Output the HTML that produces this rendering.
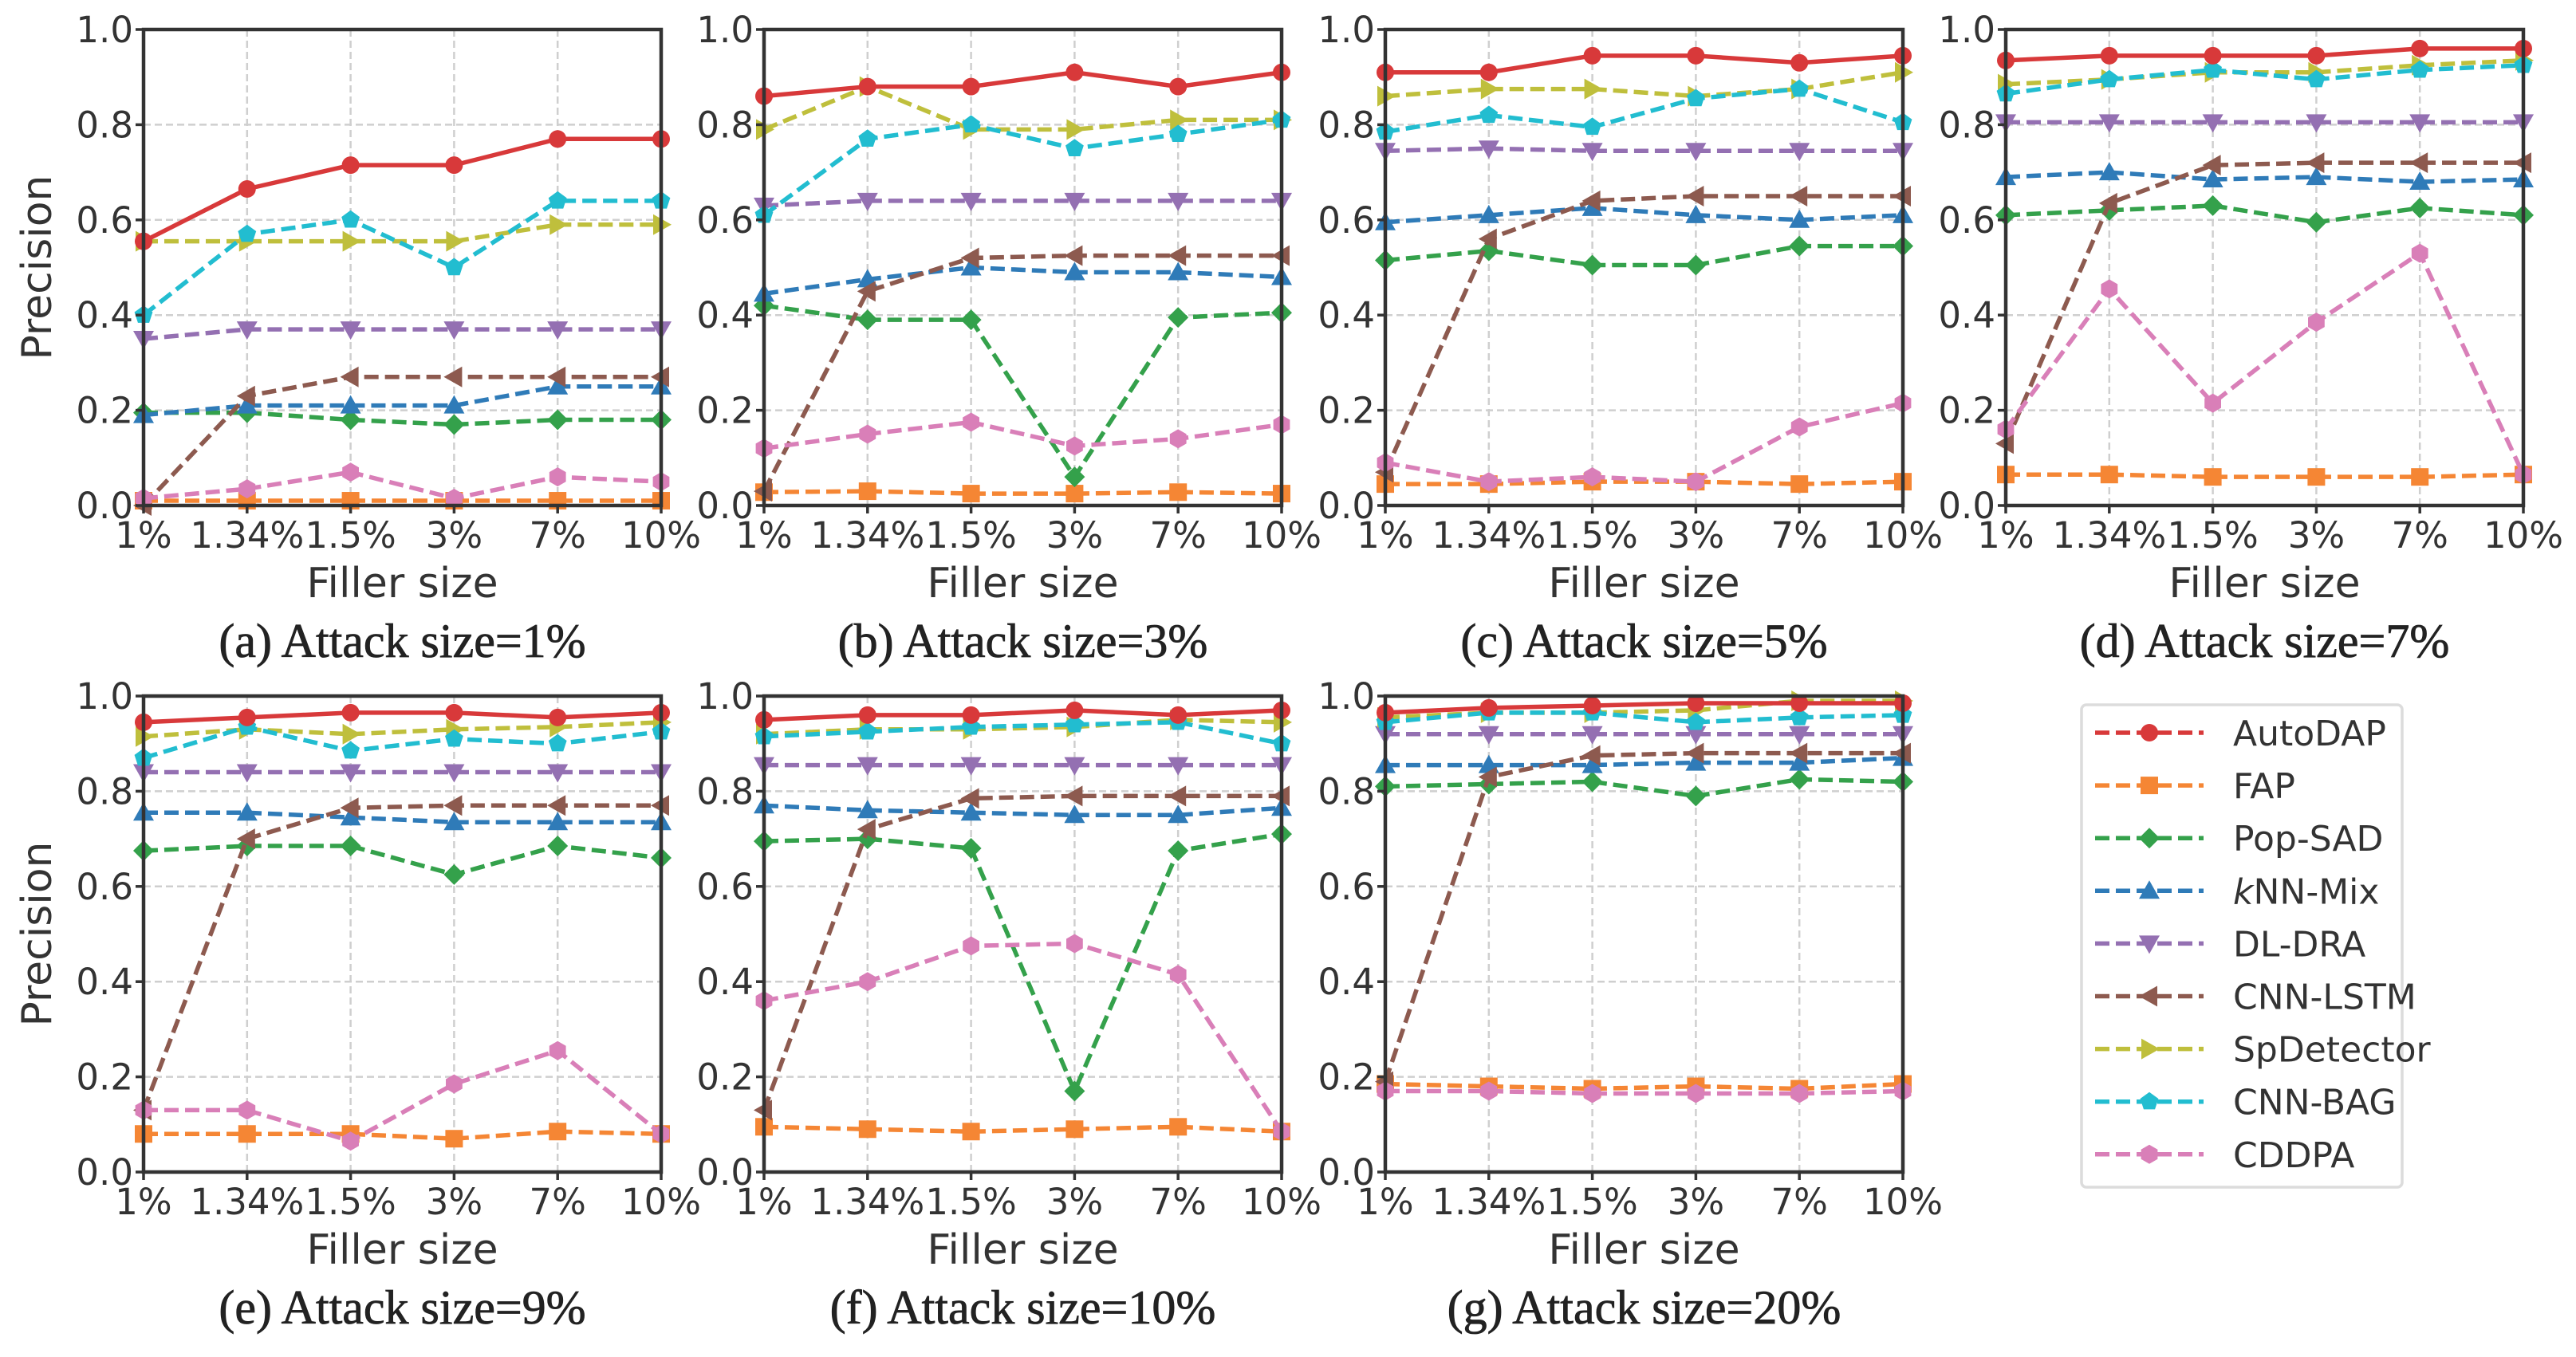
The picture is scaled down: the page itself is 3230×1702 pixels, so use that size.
<!DOCTYPE html>
<html><head><meta charset="utf-8"><style>
html,body{margin:0;padding:0;background:#fff;}
svg{display:block;}
</style></head><body>
<svg id="chart" width="3230" height="1702" viewBox="0 0 3230 1702" xmlns="http://www.w3.org/2000/svg"></svg>
<script>
const categories = ["1%","1.34%","1.5%","3%","7%","10%"];
const yTicks = [0,0.2,0.4,0.6,0.8,1.0];
const yTickLabels = ["0.0","0.2","0.4","0.6","0.8","1.0"];
const seriesNames = ["AutoDAP","FAP","Pop-SAD","kNN-Mix","DL-DRA","CNN-LSTM","SpDetector","CNN-BAG","CDDPA"];
const captions = ["(a) Attack size=1%","(b) Attack size=3%","(c) Attack size=5%","(d) Attack size=7%","(e) Attack size=9%","(f) Attack size=10%","(g) Attack size=20%"];

const panelA = [
 [.555,.665,.715,.715,.77,.77],[.01,.01,.01,.01,.01,.01],[.195,.195,.18,.17,.18,.18],
 [.19,.21,.21,.21,.25,.25],[.35,.37,.37,.37,.37,.37],[0,.23,.27,.27,.27,.27],
 [.555,.555,.555,.555,.59,.59],[.40,.57,.60,.50,.64,.64],[.015,.035,.07,.015,.06,.05]];
const panelB = [
 [.86,.88,.88,.91,.88,.91],[.028,.03,.025,.025,.028,.025],[.42,.39,.39,.06,.395,.405],
 [.445,.475,.50,.49,.49,.48],[.63,.64,.64,.64,.64,.64],[.03,.45,.52,.525,.525,.525],
 [.79,.88,.79,.79,.81,.81],[.61,.77,.80,.75,.78,.81],[.12,.15,.175,.125,.14,.17]];
const panelC = [
 [.91,.91,.945,.945,.93,.945],[.045,.045,.05,.05,.045,.05],[.515,.535,.505,.505,.545,.545],
 [.595,.61,.625,.61,.60,.61],[.745,.75,.745,.745,.745,.745],[.07,.56,.64,.65,.65,.65],
 [.86,.875,.875,.86,.875,.91],[.785,.82,.795,.855,.875,.805],[.09,.05,.06,.05,.165,.215]];
const panelD = [
 [.935,.945,.945,.945,.96,.96],[.065,.065,.06,.06,.06,.065],[.61,.62,.63,.595,.625,.61],
 [.69,.70,.685,.69,.68,.685],[.805,.805,.805,.805,.805,.805],[.13,.635,.715,.72,.72,.72],
 [.885,.895,.91,.91,.925,.935],[.865,.895,.915,.895,.915,.925],[.16,.455,.215,.385,.53,.065]];
const panelE = [
 [.945,.955,.965,.965,.955,.965],[.08,.08,.08,.07,.085,.08],[.675,.685,.685,.625,.685,.66],
 [.755,.755,.745,.735,.735,.735],[.84,.84,.84,.84,.84,.84],[.13,.70,.765,.77,.77,.77],
 [.915,.93,.92,.93,.935,.945],[.87,.935,.885,.91,.90,.925],[.13,.13,.065,.185,.255,.08]];
const panelF = [
 [.95,.96,.96,.97,.96,.97],[.095,.09,.085,.09,.095,.085],[.695,.70,.68,.17,.675,.71],
 [.77,.76,.755,.75,.75,.765],[.855,.855,.855,.855,.855,.855],[.13,.72,.785,.79,.79,.79],
 [.92,.93,.93,.935,.95,.945],[.915,.925,.935,.94,.945,.90],[.36,.40,.475,.48,.415,.085]];
const panelG = [
 [.965,.975,.98,.985,.985,.985],[.185,.18,.175,.18,.175,.185],[.81,.815,.82,.79,.825,.82],
 [.855,.855,.855,.86,.86,.87],[.92,.92,.92,.92,.92,.92],[.19,.83,.875,.88,.88,.88],
 [.955,.965,.965,.97,.99,.99],[.945,.965,.965,.945,.955,.96],[.17,.17,.165,.165,.165,.17]];
const panels = [panelA,panelB,panelC,panelD,panelE,panelF,panelG];

const cols = ["#d8393a","#f58634","#34a14b","#2f7bb8","#9470b2","#8d5a4f","#bfbf3c","#22bdd0","#d97fb8"];
const markers = ["circle","square","diamond","up","down","left","right","pentagon","hexagon"];

const NS="http://www.w3.org/2000/svg";
const svg=document.getElementById('chart');
function mk(tag,attrs,parent){const e=document.createElementNS(NS,tag);for(const k in attrs)e.setAttribute(k,attrs[k]);(parent||svg).appendChild(e);return e;}

function markerShape(type,cx,cy,col,g){
  const r=11;let e;
  if(type==="circle"){e=mk('circle',{cx:cx,cy:cy,r:r,fill:col},g);}
  else if(type==="square"){e=mk('rect',{x:cx-r,y:cy-r,width:2*r,height:2*r,fill:col},g);}
  else{
    let pts=[];
    if(type==="diamond")pts=[[0,-13],[13,0],[0,13],[-13,0]];
    else if(type==="up")pts=[[0,-13],[13,10],[-13,10]];
    else if(type==="down")pts=[[0,13],[13,-10],[-13,-10]];
    else if(type==="left")pts=[[-13,0],[10,-13],[10,13]];
    else if(type==="right")pts=[[13,0],[-10,-13],[-10,13]];
    else if(type==="pentagon"){for(let i=0;i<5;i++){const a=-Math.PI/2+i*2*Math.PI/5;pts.push([12*Math.cos(a),12*Math.sin(a)]);}}
    else if(type==="hexagon"){for(let i=0;i<6;i++){const a=-Math.PI/2+i*Math.PI/3;pts.push([12*Math.cos(a),12*Math.sin(a)]);}}
    e=mk('polygon',{points:pts.map(p=>(cx+p[0])+','+(cy+p[1])).join(' '),fill:col},g);
  }
  return e;
}

const colX=[180,958,1737,2515];
const rowY=[37,873];
const PW=649, PH=597;
const font='"DejaVu Sans","Liberation Sans",sans-serif';

panels.forEach((data,pi)=>{
  const x0=colX[pi%4], y0=rowY[Math.floor(pi/4)];
  const xs=i=>x0+i*PW/(categories.length-1);
  const ys=v=>y0+PH-(v-0)/(1.0)*PH;
  const g=mk('g',{});
  
  
  categories.forEach((c,i)=>{const l=mk('line',{x1:xs(i),y1:y0,x2:xs(i),y2:y0+PH,stroke:'#cfcfcf','stroke-width':2.5,'stroke-dasharray':'9,5'},g);
    });
  yTicks.forEach((t,i)=>{const l=mk('line',{x1:x0,y1:ys(t),x2:x0+PW,y2:ys(t),stroke:'#cfcfcf','stroke-width':2.5,'stroke-dasharray':'9,5'},g);
    });
  const order=[1,2,3,4,5,6,7,8,0];
  order.forEach(si=>{
    const vals=data[si];
    const sg=mk('g',{},g);
    
    
    const pts=vals.map((v,i)=>xs(i)+','+ys(v)).join(' ');
    const attrs={points:pts,fill:'none',stroke:cols[si],'stroke-width':5.5,'stroke-linejoin':'round'};
    if(si!==0)attrs['stroke-dasharray']='18,8';
    const pl=mk('polyline',attrs,sg);
    
    
    vals.forEach((v,i)=>{const m=markerShape(markers[si],xs(i),ys(v),cols[si],sg);
      
      });
  });
  const fr=mk('rect',{x:x0,y:y0,width:PW,height:PH,fill:'none',stroke:'#333','stroke-width':4.5},g);
  
  categories.forEach((c,i)=>{
    mk('line',{x1:xs(i),y1:y0+PH,x2:xs(i),y2:y0+PH+10,stroke:'#333','stroke-width':3.5},g);
    const t=mk('text',{x:xs(i),y:y0+PH+53,'text-anchor':'middle','font-family':font,'font-size':45,fill:'#333'},g);
    t.textContent=c;
  });
  yTicks.forEach((v,i)=>{
    mk('line',{x1:x0-10,y1:ys(v),x2:x0,y2:ys(v),stroke:'#333','stroke-width':3.5},g);
    const t=mk('text',{x:x0-13,y:ys(v)+16,'text-anchor':'end','font-family':font,'font-size':45,fill:'#333'},g);
    t.textContent=yTickLabels[i];
  });
  const xl=mk('text',{x:x0+PW/2,y:y0+PH+115,'text-anchor':'middle','font-family':font,'font-size':52,fill:'#333'},g);
  xl.textContent='Filler size';
  const cap=mk('text',{x:x0+PW/2,y:y0+PH+190,'text-anchor':'middle','font-family':'"Liberation Serif",serif','font-size':60,fill:'#222',stroke:'#222','stroke-width':0.8},g);
  cap.textContent=captions[pi];
  if(pi%4===0){
    const yl=mk('text',{x:0,y:0,'text-anchor':'middle','font-family':font,'font-size':52,fill:'#333',transform:'translate(64,'+(y0+PH/2)+') rotate(-90)'},g);
    yl.textContent='Precision';
  }
});

const lg=mk('g',{});


const lb=mk('rect',{x:2610,y:884,width:402,height:605,rx:6,fill:'#fff',stroke:'#dcdcdc','stroke-width':3.5},lg);

seriesNames.forEach((n,i)=>{
  const y=919+i*66.1;
  const eg=mk('g',{},lg);
  
  
  mk('line',{x1:2627,y1:y,x2:2763,y2:y,stroke:cols[i],'stroke-width':5.5,'stroke-dasharray':'18,8'},eg);
  markerShape(markers[i],2695,y,cols[i],eg);
  const t=mk('text',{x:2800,y:y+16,'font-family':font,'font-size':44,fill:'#333'},eg);
  if(n==="kNN-Mix"){const k=mk('tspan',{'font-style':'italic'},t);k.textContent='k';const r=mk('tspan',{},t);r.textContent='NN-Mix';}
  else t.textContent=n;
});
</script>
</body></html>
